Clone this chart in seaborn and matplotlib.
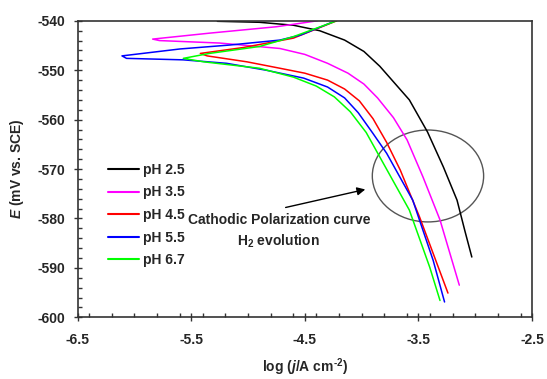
import numpy as np
import pandas as pd
import seaborn as sns
import matplotlib
matplotlib.use("Agg")
from matplotlib import pyplot as plt
from matplotlib.patches import Ellipse
from matplotlib.ticker import MultipleLocator

# polarization curves: log(j) and E (mV vs. SCE),
# ordered along each trace (anodic branch down to the tip, then cathodic branch)
ph25_logj = [-5.27, -4.90, -4.60, -4.37, -4.15, -3.98, -3.84, -3.71, -3.58, -3.42, -3.28, -3.16, -3.09, -3.03]
ph25_E = [-540.1, -540.3, -540.9, -542.0, -543.9, -546.2, -549.2, -552.6, -556.0, -562.5, -569.6, -576.3, -582.6, -587.8]

ph35_logj = [-4.39, -4.75, -5.34, -5.84, -5.78, -5.25, -4.72, -4.50, -4.30, -4.12, -3.98, -3.86, -3.72, -3.60, -3.46, -3.31, -3.14]
ph35_E = [-540.0, -541.2, -542.5, -543.7, -544.0, -544.5, -545.6, -546.8, -548.6, -550.6, -552.8, -555.6, -559.6, -564.1, -571.6, -580.3, -593.5]

ph45_logj = [-4.22, -4.60, -5.04, -5.42, -5.36, -5.01, -4.72, -4.50, -4.30, -4.15, -4.02, -3.90, -3.78, -3.66, -3.49, -3.24]
ph45_E = [-540.0, -543.5, -545.4, -546.6, -547.1, -548.3, -549.6, -550.6, -552.0, -553.8, -556.2, -559.8, -564.6, -570.2, -579.7, -595.1]

ph55_logj = [-4.25, -4.54, -4.72, -5.16, -5.60, -6.11, -6.07, -5.57, -5.19, -4.84, -4.51, -4.30, -4.15, -4.03, -3.90, -3.78, -3.55, -3.37, -3.27]
ph55_E = [-540.2, -542.9, -543.9, -544.9, -545.7, -547.1, -547.6, -547.9, -548.6, -550.0, -551.6, -553.4, -555.6, -558.6, -562.8, -566.8, -576.3, -588.5, -596.9]

ph67_logj = [-4.22, -4.60, -4.90, -5.34, -5.57, -5.39, -4.90, -4.60, -4.40, -4.24, -4.10, -3.96, -3.81, -3.58, -3.40, -3.31]
ph67_E = [-540.0, -543.2, -545.2, -546.6, -547.6, -548.3, -549.6, -551.4, -553.2, -555.4, -558.4, -562.6, -568.8, -578.3, -589.9, -596.6]

labels = ["pH 2.5", "pH 3.5", "pH 4.5", "pH 5.5", "pH 6.7"]
colors = ["#000000", "#ff00ff", "#ff0000", "#0000ff", "#00ff00"]

series = [
    (ph25_logj, ph25_E),
    (ph35_logj, ph35_E),
    (ph45_logj, ph45_E),
    (ph55_logj, ph55_E),
    (ph67_logj, ph67_E),
]

frames = []
for lab, (lj, e) in zip(labels, series):
    frames.append(pd.DataFrame({"logj": lj, "E": e, "pH": lab}))
df = pd.concat(frames, ignore_index=True)

sns.set_style("ticks")
plt.rcParams["font.family"] = ["Liberation Sans", "DejaVu Sans"]
plt.rcParams["font.weight"] = "bold"
plt.rcParams["axes.labelweight"] = "bold"
plt.rcParams["mathtext.fontset"] = "custom"
plt.rcParams["mathtext.rm"] = "Liberation Sans:weight=bold"
plt.rcParams["mathtext.bf"] = "Liberation Sans:weight=bold"
plt.rcParams["mathtext.it"] = "Liberation Sans:style=italic:weight=bold"
plt.rcParams["mathtext.default"] = "rm"

fig, ax = plt.subplots(figsize=(5.47, 3.79), dpi=100)
fig.subplots_adjust(left=0.142, right=0.9726, top=0.9451, bottom=0.1628)

sns.lineplot(
    data=df, x="logj", y="E", hue="pH", hue_order=labels,
    palette=dict(zip(labels, colors)), sort=False, estimator=None,
    units="pH", linewidth=1.1, ax=ax,
)

ax.set_xlim(-6.5, -2.5)
ax.set_ylim(-600, -540)
ax.set_xticks(np.arange(-6.5, -2.4, 1.0))
ax.set_yticks(np.arange(-600, -539, 10))
ax.xaxis.set_minor_locator(MultipleLocator(0.2))
ax.yaxis.set_minor_locator(MultipleLocator(2))
ax.tick_params(which="major", direction="inout", length=6, width=1, color="#333333",
               labelsize=10, pad=8)
ax.tick_params(axis="y", which="major", pad=6)
ax.tick_params(which="minor", direction="in", length=3, width=1, color="#333333")
ax.set_xticklabels(["-6.5", "-5.5", "-4.5", "-3.5", "-2.5"], fontweight="bold")
ax.set_yticklabels([str(v) for v in range(-600, -539, 10)], fontweight="bold")

for s in ax.spines.values():
    s.set_color("#333333")
    s.set_linewidth(1.2)

ax.set_xlabel(r"log ($\mathit{j}$/A cm$^{\text{-}2}$)", fontsize=10, fontweight="bold", labelpad=7)
ax.set_ylabel(r"$\mathit{E}$ (mV vs. SCE)", fontsize=10, fontweight="bold", labelpad=8)

leg = ax.legend(
    loc="center left", bbox_to_anchor=(0.0667, 0.345), frameon=False,
    borderpad=0, borderaxespad=0, handlelength=2.2, handletextpad=0.3,
    labelspacing=0.62, prop={"size": 10, "weight": "bold"},
)
for h in leg.get_lines():
    h.set_linewidth(1.5)

ax.add_patch(Ellipse((-3.416, -571.4), 0.98, 18.6, fill=False,
                     edgecolor="#555555", linewidth=1))
ax.annotate("", xy=(-3.944, -574.0), xytext=(-4.693, -577.9),
            arrowprops=dict(arrowstyle="-|>", color="black", lw=1, mutation_scale=12))
ax.text(-5.529, -580.3, "Cathodic Polarization curve", ha="left", va="center",
        fontsize=10, fontweight="bold")
ax.text(-4.737, -584.7, r"H$_{2}$ evolution", ha="center", va="center",
        fontsize=10, fontweight="bold")

plt.savefig("out.png", dpi=100)
